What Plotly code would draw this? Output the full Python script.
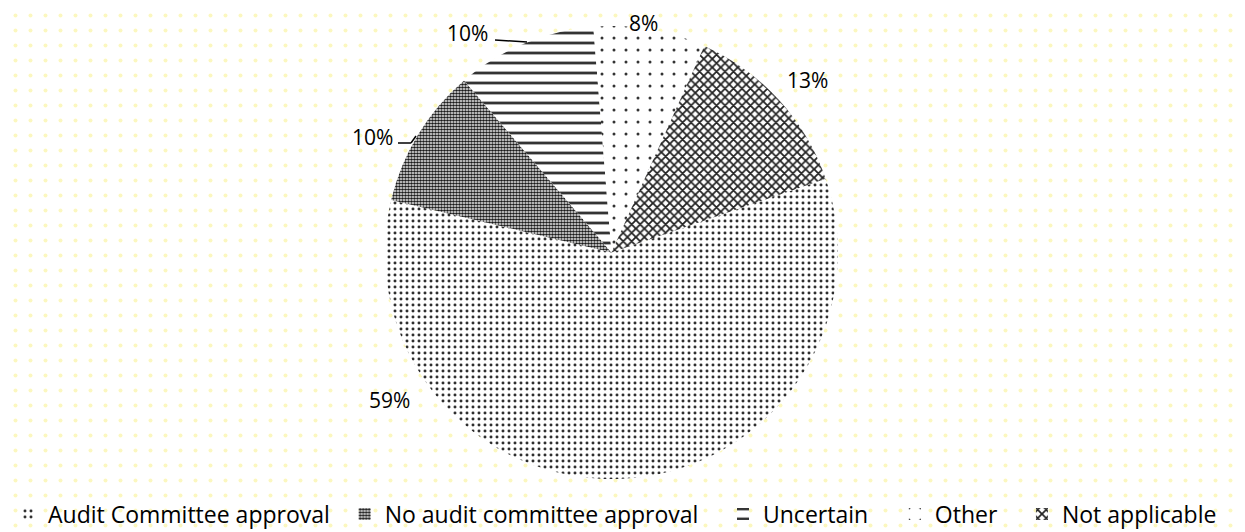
"""Audit committee approval pie chart with patterned slices."""

import plotly.graph_objects as go

categories = [
    "Audit Committee approval",
    "No audit committee approval",
    "Uncertain",
    "Other",
    "Not applicable",
]
shares = [59, 10, 10, 8, 13]

# slice patterns (shape, tile size, solidity, foreground)
patterns = [
    (".", 6, 0.19, "#2e2e2e"),
    (".", 3, 0.65, "#1a1a1a"),
    ("-", 10, 0.28, "#333333"),
    (".", 12, 0.05, "#333333"),
    ("x", 6, 0.5, "#222222"),
]

# label centre (px from top-left of the page) for each slice
label_px = [(389, 400), (372, 137), (467, 33), (643, 23), (807, 80)]

W, H = 1245, 532
OFF = 8  # page body margin in front of the plot div
FONT = "Open Sans, Liberation Sans, Arial, sans-serif"
NB, THIN = "\u00a0", "\u2009"
# trailing room after each legend entry
pads = [NB + THIN, NB * 2 + THIN * 2, NB * 3 + THIN, NB * 2 + THIN * 2, ""]


def px_to_paper(x, y):
    return (x - OFF) / W, (H - (y - OFF)) / H


fig = go.Figure()

# faint yellow dotted background over the whole chart area
fig.add_trace(
    go.Bar(
        x=[0],
        y=[1],
        width=[1],
        marker=dict(
            color="white",
            line=dict(width=0),
            pattern=dict(shape=".", size=15, solidity=0.056,
                         fgcolor="#f8f080", bgcolor="white"),
        ),
        showlegend=False,
        hoverinfo="skip",
    )
)

cx, cy, r = 611.5, 252.5, 226.5
x0, y1 = px_to_paper(cx - r, cy - r)
x1, y0 = px_to_paper(cx + r, cy + r)
fig.add_trace(
    go.Pie(
        labels=[c + p for c, p in zip(categories, pads)],
        values=shares,
        sort=False,
        direction="clockwise",
        rotation=71,
        textinfo="none",
        hoverinfo="label+percent",
        domain=dict(x=[x0, x1], y=[y0, y1]),
        marker=dict(
            colors=["white"] * len(categories),
            line=dict(width=0),
            pattern=dict(
                shape=[p[0] for p in patterns],
                size=[p[1] for p in patterns],
                solidity=[p[2] for p in patterns],
                fgcolor=[p[3] for p in patterns],
                bgcolor=["white"] * len(categories),
            ),
        ),
    )
)

total = sum(shares)
for val, (lx, ly) in zip(shares, label_px):
    ax, ay = px_to_paper(lx, ly)
    fig.add_annotation(
        x=ax, y=ay, xref="paper", yref="paper",
        xanchor="center", yanchor="middle",
        text=f"{round(val / total * 100)}%",
        showarrow=False,
        font=dict(family=FONT, size=21, color="#000000"),
    )

# leader lines for the two small 10% labels
leaders = [
    [(495, 40), (527, 42)],
    [(398, 143), (411, 143), (416, 136)],
]
for pts in leaders:
    for (xa, ya), (xb, yb) in zip(pts[:-1], pts[1:]):
        a0, b0 = px_to_paper(xa, ya)
        a1, b1 = px_to_paper(xb, yb)
        fig.add_shape(type="line", xref="paper", yref="paper",
                      x0=a0, y0=b0, x1=a1, y1=b1,
                      line=dict(color="black", width=1.5))

fig.update_layout(
    width=W,
    height=H,
    margin=dict(l=0, r=0, t=0, b=0, pad=0, autoexpand=False),
    paper_bgcolor="white",
    plot_bgcolor="white",
    xaxis=dict(visible=False, range=[-0.5, 0.5], fixedrange=True),
    yaxis=dict(visible=False, range=[0, 1], fixedrange=True),
    bargap=0,
    showlegend=True,
    legend=dict(
        orientation="h",
        x=0.0,
        xanchor="left",
        y=px_to_paper(0, 514)[1],
        yanchor="middle",
        bgcolor="rgba(0,0,0,0)",
        font=dict(family=FONT, size=23, color="#000000"),
        itemclick=False,
    ),
)

fig.write_html("out.html")
